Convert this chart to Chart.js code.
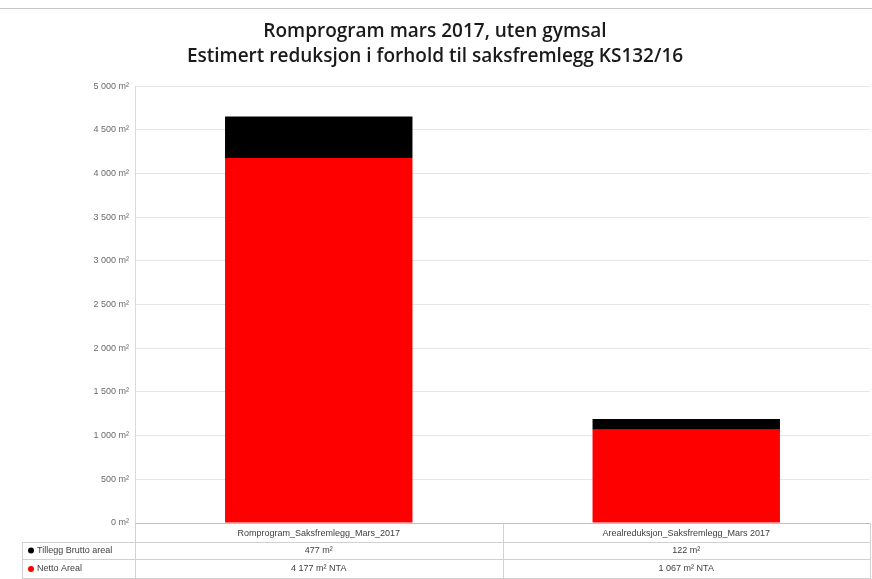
<!DOCTYPE html>
<html>
<head>
<meta charset="utf-8">
<script src="https://cdn.jsdelivr.net/npm/chart.js@4.4.0/dist/chart.umd.min.js"></script>
<style>
    html, body { margin: 0; padding: 0; background: #fff; }
    #wrap { width: 872px; height: 579px; }
</style>
</head>
<body>
<div id="wrap"><canvas id="chart"></canvas></div>
<script>
// Data
const categories = ['Romprogram_Saksfremlegg_Mars_2017', 'Arealreduksjon_Saksfremlegg_Mars 2017'];
const nettoAreal = [4177, 1067];
const tilleggBrutto = [477, 122];
const titleLines = ['Romprogram mars 2017, uten gymsal', 'Estimert reduksjon i forhold til saksfremlegg KS132/16'];

function fmtNum(v) {
    return String(Math.round(v)).replace(/\B(?=(\d{3})+(?!\d))/g, ' ');
}

// Draws the data table under the plot, using the x scale for column positions
const dataTablePlugin = {
    id: 'dataTable',
    beforeDraw(chart) {
        const ctx = chart.ctx;
        ctx.save();
        ctx.fillStyle = '#fff';
        ctx.fillRect(0, 0, chart.width, chart.height);
        ctx.strokeStyle = '#c8c8c8';
        ctx.lineWidth = 1;
        ctx.beginPath();
        ctx.moveTo(0, 8.5);
        ctx.lineTo(chart.width, 8.5);
        ctx.stroke();
        ctx.restore();
    },
    afterDraw(chart) {
        const ctx = chart.ctx;
        const area = chart.chartArea;
        const xs = chart.scales.x;
        const rowTop = area.bottom;
        const rowH = [19, 17, 20];
        const tableLeft = 22;
        const y1 = rowTop + rowH[0];
        const y2 = y1 + rowH[1];
        const y3 = y2 + rowH[2];

        ctx.save();
        ctx.strokeStyle = '#d0d0d0';
        ctx.lineWidth = 1;
        ctx.beginPath();
        [y1, y2, y3 - 1].forEach(y => {
            ctx.moveTo(tableLeft, Math.round(y) + 0.5);
            ctx.lineTo(area.right, Math.round(y) + 0.5);
        });
        // column dividers
        const divs = [tableLeft, area.left, (xs.getPixelForValue(0) + xs.getPixelForValue(1)) / 2, area.right];
        divs.forEach((x, i) => {
            ctx.moveTo(Math.round(x) + 0.5, i === 0 ? y1 : rowTop);
            ctx.lineTo(Math.round(x) + 0.5, y3);
        });
        ctx.stroke();

        ctx.font = '9px "Liberation Sans", Arial, sans-serif';
        ctx.fillStyle = '#404040';
        ctx.textAlign = 'center';
        ctx.textBaseline = 'middle';
        categories.forEach((c, i) => {
            const cx = xs.getPixelForValue(i);
            ctx.fillText(c, cx, rowTop + rowH[0] / 2 + 1);
            ctx.fillText(fmtNum(tilleggBrutto[i]) + ' m²', cx, y1 + rowH[1] / 2);
            ctx.fillText(fmtNum(nettoAreal[i]) + ' m² NTA', cx, y2 + rowH[2] / 2);
        });

        // legend keys in the first column
        const rows = [
            { label: chart.data.datasets[1].label, color: chart.data.datasets[1].backgroundColor, y: y1 + rowH[1] / 2 },
            { label: chart.data.datasets[0].label, color: chart.data.datasets[0].backgroundColor, y: y2 + rowH[2] / 2 }
        ];
        ctx.textAlign = 'left';
        rows.forEach(r => {
            ctx.fillStyle = r.color;
            ctx.beginPath();
            ctx.arc(tableLeft + 9, r.y, 3, 0, Math.PI * 2);
            ctx.fill();
            ctx.fillStyle = '#404040';
            ctx.fillText(r.label, tableLeft + 15, r.y);
        });
        ctx.restore();
    }
};

const chart = new Chart(document.getElementById('chart'), {
    type: 'bar',
    data: {
        labels: categories,
        datasets: [
            {
                label: 'Netto Areal',
                data: nettoAreal,
                backgroundColor: '#ff0000',
                categoryPercentage: 1,
                barPercentage: 0.51
            },
            {
                label: 'Tillegg Brutto areal',
                data: tilleggBrutto,
                backgroundColor: '#000000',
                categoryPercentage: 1,
                barPercentage: 0.51
            }
        ]
    },
    options: {
        responsive: true,
        maintainAspectRatio: false,
        animation: false,
        layout: {
            padding: { left: 0, right: 2, top: 0, bottom: 48 }
        },
        scales: {
            x: {
                stacked: true,
                grid: { display: false },
                border: { color: '#bfbfbf' },
                ticks: { display: false }
            },
            y: {
                stacked: true,
                min: 0,
                max: 5000,
                afterFit(scale) { scale.width = 135; },
                grid: { color: '#e6e6e6', drawTicks: false },
                border: { color: '#d9d9d9' },
                ticks: {
                    stepSize: 500,
                    padding: 6,
                    color: '#6a6a6a',
                    font: { family: '"Liberation Sans", Arial, sans-serif', size: 9 },
                    callback: v => fmtNum(v) + ' m²'
                }
            }
        },
        plugins: {
            legend: { display: false },
            tooltip: { enabled: false },
            title: {
                display: true,
                text: titleLines,
                color: '#1a1a1a',
                font: { family: '"Open Sans", "Liberation Sans", sans-serif', size: 19, weight: '600', lineHeight: 1.32 },
                padding: { top: 19, bottom: 17 }
            }
        }
    },
    plugins: [dataTablePlugin]
});
</script>
</body>
</html>
